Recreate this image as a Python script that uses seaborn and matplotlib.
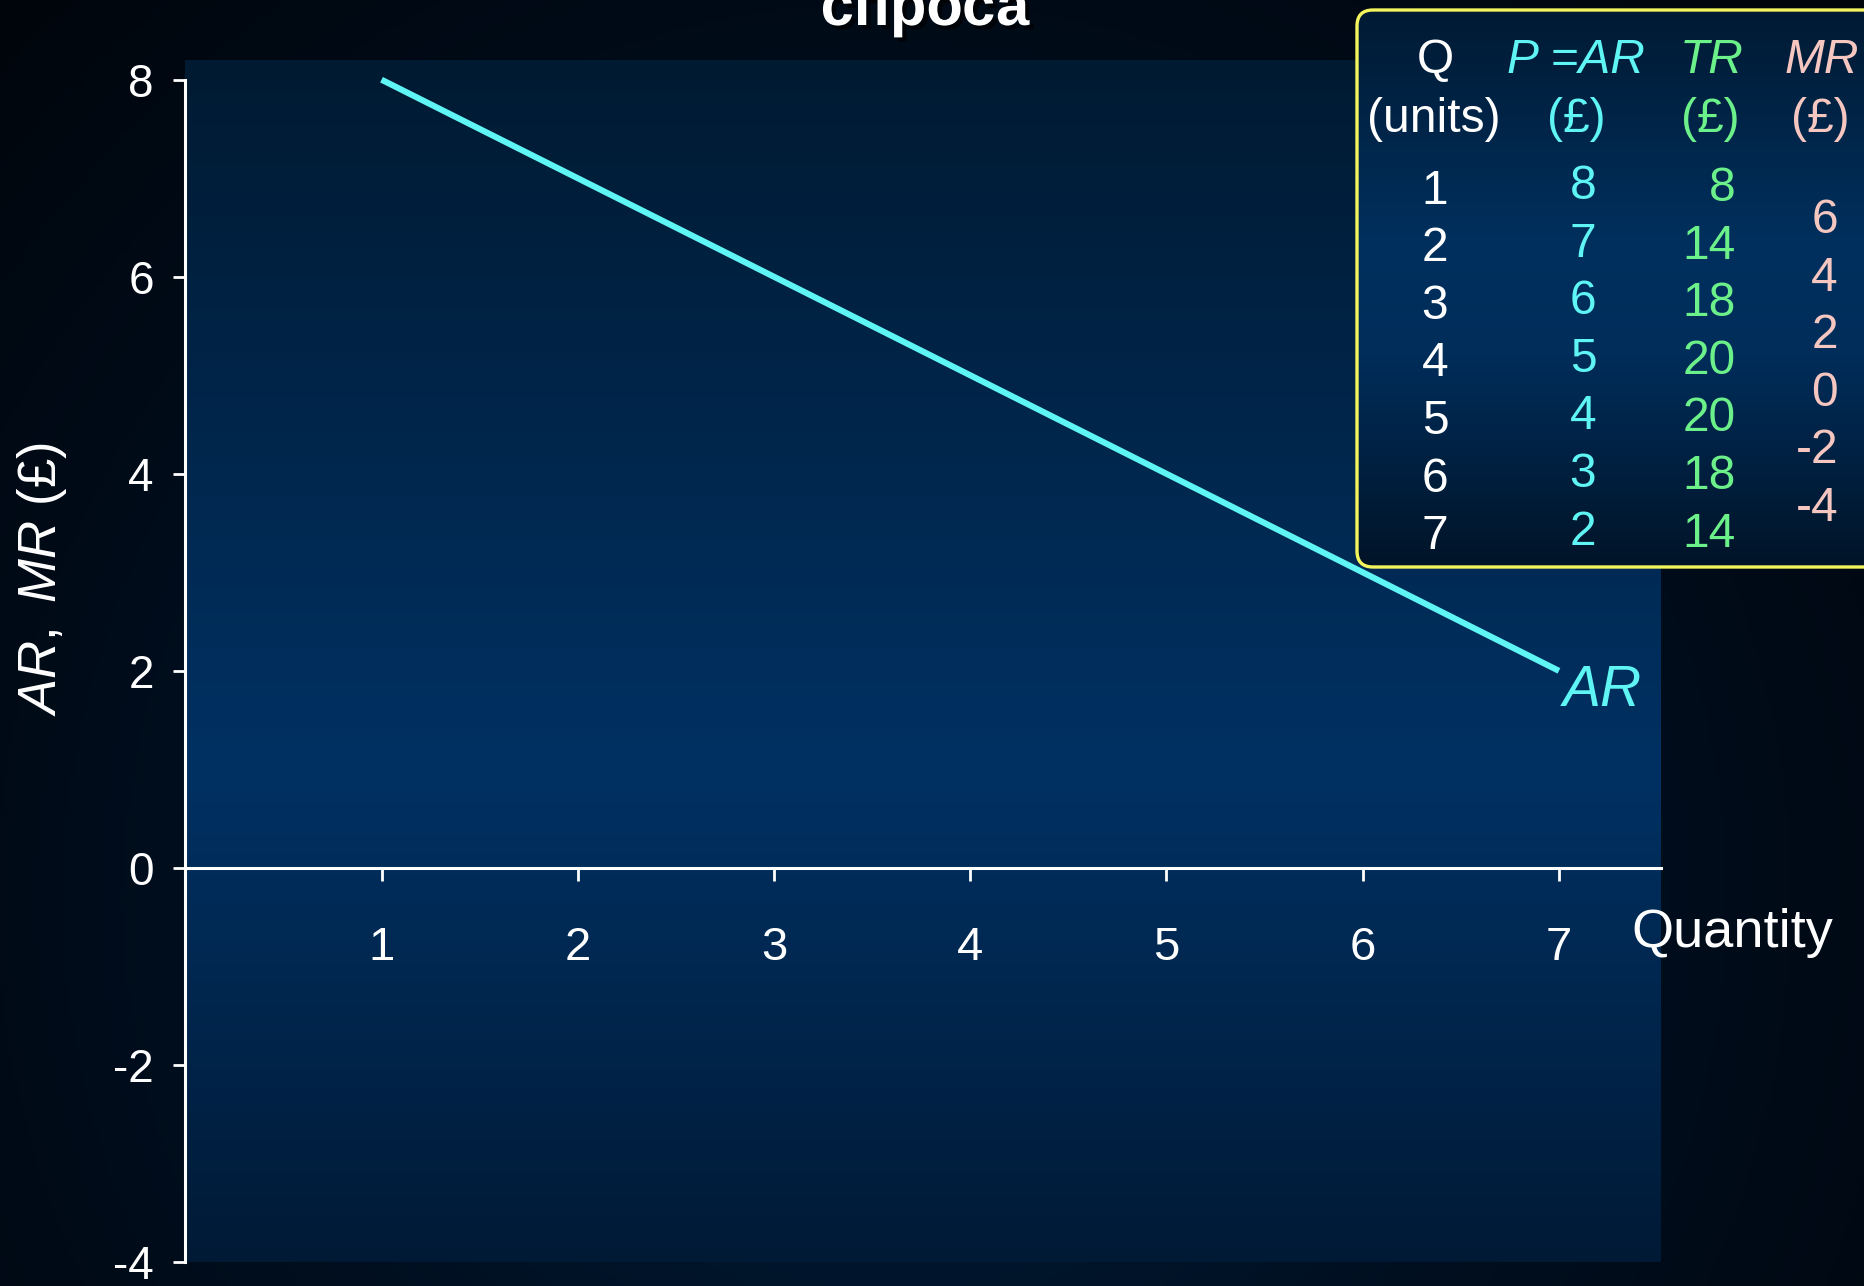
import numpy as np
import matplotlib
matplotlib.use("Agg")
import matplotlib.pyplot as plt
import matplotlib.patheffects as pe
import seaborn as sns
from matplotlib.colors import LinearSegmentedColormap
from matplotlib.patches import FancyBboxPatch

# data
q_units = [1, 2, 3, 4, 5, 6, 7]
avg_revenue = [8, 7, 6, 5, 4, 3, 2]
total_revenue = [8, 14, 18, 20, 20, 18, 14]
marginal_revenue = [6, 4, 2, 0, -2, -4]
x_ticks = [1, 2, 3, 4, 5, 6, 7]
y_ticks = [-4, -2, 0, 2, 4, 6, 8]

CYAN = "#5ff5f5"
GREEN = "#6cf08a"
PINK = "#f6c6c0"
YELLOW = "#f4f45c"

sns.set_theme(style="white")
plt.rcParams["font.family"] = ["Liberation Sans", "DejaVu Sans"]
plt.rcParams["mathtext.fontset"] = "custom"
plt.rcParams["mathtext.it"] = "Liberation Sans:italic"
plt.rcParams["mathtext.rm"] = "Liberation Sans"
plt.rcParams["axes.unicode_minus"] = False

W, H = 1864, 1286
fig = plt.figure(figsize=(W / 100, H / 100), dpi=100)

# slide background (dark radial gradient)
bg = fig.add_axes([0, 0, 1, 1], zorder=-10)
bg.axis("off")
yy, xx = np.mgrid[0:1:300j, 0:1:400j]
dist = np.sqrt(((xx - 0.48) * 1.45) ** 2 + (yy - 0.3) ** 2)
bg_cmap = LinearSegmentedColormap.from_list("bg", ["#001e3c", "#000f20", "#00050b"])
bg.imshow(np.clip(dist / 1.0, 0, 1), cmap=bg_cmap, origin="lower",
          extent=[0, 1, 0, 1], aspect="auto", vmin=0, vmax=1)
bg.set_xlim(0, 1)
bg.set_ylim(0, 1)

# main chart
ax = fig.add_axes([185.3 / W, 24 / H, (1661 - 185.3) / W, 1202 / H])
ax.set_facecolor("none")
ax_cmap = LinearSegmentedColormap.from_list(
    "ax", [(0, "#001a36"), (0.41, "#003163"), (1, "#001a32")])
ax.imshow(np.linspace(0, 1, 256).reshape(-1, 1), cmap=ax_cmap, origin="lower",
          extent=(0, 1, 0, 1), transform=ax.transAxes, aspect="auto", zorder=0)

sns.lineplot(x=q_units, y=avg_revenue, color=CYAN, linewidth=4.4, ax=ax,
             zorder=3, solid_capstyle="butt")

ax.set_xlim(0, 7.52)
ax.set_ylim(-4, 8.2)
ax.set_xticks(x_ticks)
ax.set_yticks(y_ticks)
ax.grid(False)

for side in ["top", "right"]:
    ax.spines[side].set_visible(False)
ax.spines["left"].set_bounds(-4, 8)
ax.spines["bottom"].set_position(("data", 0))
for side in ["left", "bottom"]:
    ax.spines[side].set_color("white")
    ax.spines[side].set_linewidth(2.2)
    ax.spines[side].set_zorder(4)

ax.tick_params(axis="y", left=True, direction="out", length=8.6, width=2,
               colors="white", labelsize=33, pad=14)
ax.tick_params(axis="x", bottom=True, direction="out", length=9, width=2,
               colors="white", labelsize=34, pad=33)

ax.set_xlabel("Quantity", color="white", fontsize=39, ha="left", va="baseline")
ax.xaxis.set_label_coords((1631 - 185.3) / 1475.7, (339 - 24) / 1202)
ax.set_ylabel(r"$\mathit{AR,\ MR}$ (£)", color="white", fontsize=38,
              rotation=90, ha="center", va="center")
ax.yaxis.set_label_coords(-0.0971, 0.568)

ax.text(q_units[-1] + 0.02, avg_revenue[-1] - 0.36, "AR", color=CYAN,
        fontsize=41, style="italic", ha="left", va="baseline", zorder=5)

# title (cut off at top of slide, as in the original)
fig.text(925 / W, 1 - 25 / H, "спроса", fontsize=43, fontweight="bold",
         color="white", ha="center", va="baseline",
         path_effects=[pe.withSimplePatchShadow(offset=(3, -3),
                                                shadow_rgbFace="black", alpha=0.7)])

# table box, pixel coordinates
tax = fig.add_axes([0, 0, 1, 1], zorder=5)
tax.set_facecolor("none")
tax.axis("off")
box = FancyBboxPatch((1357, 10), 620, 557, boxstyle="round,pad=0,rounding_size=16",
                     facecolor="none", edgecolor="none")
tax.add_patch(box)
tab_cmap = LinearSegmentedColormap.from_list(
    "tab", [(0, "#001a33"), (0.42, "#00305e"), (0.62, "#002d5a"), (1, "#001428")])
img = tax.imshow(np.linspace(0, 1, 256).reshape(-1, 1), cmap=tab_cmap,
                 origin="upper", extent=(1357, 1977, 567, 10), aspect="auto")
img.set_clip_path(box)
tax.add_patch(FancyBboxPatch((1357, 10), 620, 557,
                             boxstyle="round,pad=0,rounding_size=16",
                             facecolor="none", edgecolor=YELLOW, linewidth=2.4))
tax.set_xlim(0, W)
tax.set_ylim(H, 0)

fs = 34.5
off = 17  # centre -> baseline
hdr = dict(fontsize=fs, ha="center", va="baseline")
tax.text(1435, 56 + off, "Q", color="white", **hdr)
tax.text(1576, 56 + off, "P =AR", color=CYAN, style="italic", **hdr)
tax.text(1712, 56 + off, "TR", color=GREEN, style="italic", **hdr)
tax.text(1822, 56 + off, "MR", color=PINK, style="italic", **hdr)
tax.text(1434, 115 + off, "(units)", color="white", **hdr)
tax.text(1576, 115 + off, "(£)", color=CYAN, **hdr)
tax.text(1710, 115 + off, "(£)", color=GREEN, **hdr)
tax.text(1820, 115 + off, "(£)", color=PINK, **hdr)

step = 57.6
for i, (q, p, tr) in enumerate(zip(q_units, avg_revenue, total_revenue)):
    tax.text(1435, 186.6 + step * i + off, str(q), color="white", **hdr)
    tax.text(1583, 182 + step * i + off, str(p), color=CYAN, **hdr)
    tax.text(1736, 184 + step * i + off, str(tr), color=GREEN,
             fontsize=fs, ha="right", va="baseline")
for i, mr in enumerate(marginal_revenue):
    tax.text(1838, 216 + step * i + off, str(mr), color=PINK,
             fontsize=fs, ha="right", va="baseline")

fig.savefig("out.png", dpi=100)
